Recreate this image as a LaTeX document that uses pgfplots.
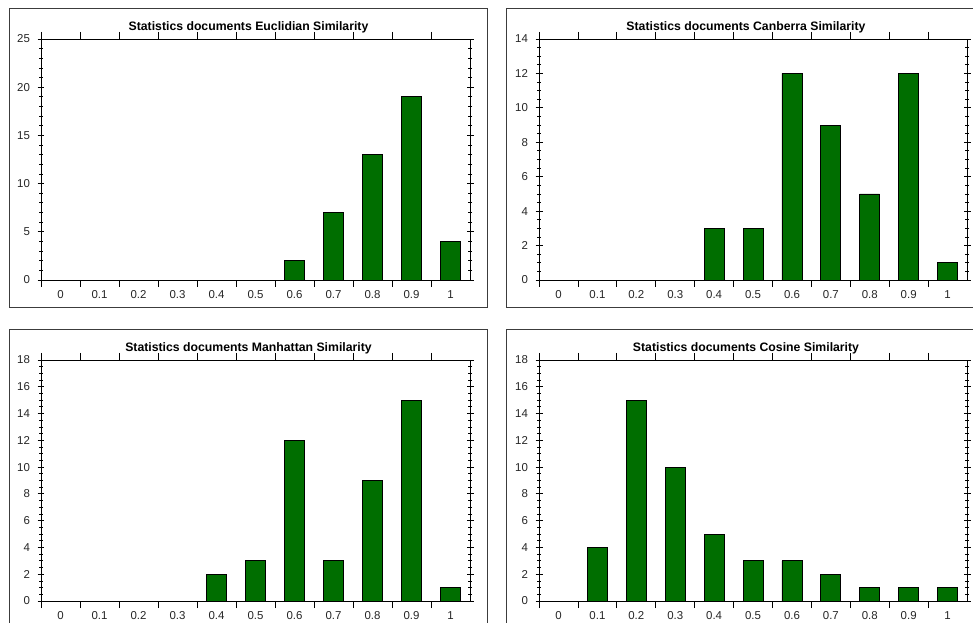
\documentclass[border=0pt]{standalone}
\usepackage{pgfplots}
\pgfplotsset{compat=1.18}
\usepackage{fontspec}
\setmainfont{Liberation Sans}
\definecolor{barfill}{RGB}{0,110,0}
\definecolor{framecol}{RGB}{60,60,60}
\pgfplotsset{
  simpanel/.style={
    scale only axis, width=429bp, height=241bp,
    xmin=-0.5, xmax=10.5, ymin=0,
    xtick={-0.5,0.5,...,9.5},
    xticklabels={0,0.1,0.2,0.3,0.4,0.5,0.6,0.7,0.8,0.9,1},
    xticklabel style={xshift=19.5bp},
    yticklabel style={xshift=-4bp},
    tick label style={font=\fontsize{11.5}{13}\selectfont, black!85},
    /pgf/number format/assume math mode=true,
    tick align=center, major tick length=7bp, minor tick length=4bp,
    axis line style={line width=0.8bp, black},
    every tick/.style={black, line width=0.8bp},
    title style={font=\bfseries\fontsize{12.3}{14}\selectfont, at={(0.5,1)}, anchor=base, yshift=2.7bp, xshift=-7bp},
    ybar, bar width=20bp,
  },
  simbar/.style={draw=black, line width=0.7bp, fill=barfill},
}
\begin{document}
\begin{tikzpicture}
\useasboundingbox (0,0) rectangle (973bp,623bp);
\clip (0,0) rectangle (973bp,623bp);
\fill[white] (0,0) rectangle (973bp,623bp);
\draw[framecol, line width=1bp] (9bp,315bp) rectangle (487bp,614bp);
\draw[framecol, line width=1bp] (506bp,315bp) rectangle (990bp,614bp);
\draw[framecol, line width=1bp] (9bp,-10bp) rectangle (487bp,293bp);
\draw[framecol, line width=1bp] (506bp,-10bp) rectangle (990bp,293bp);

\begin{axis}[simpanel, at={(41bp,343bp)}, anchor=south west,
  ymax=25, ytick distance=5, minor y tick num=4,
  title={Statistics documents Euclidian Similarity}]
\addplot[simbar] coordinates {(6,2) (7,7) (8,13) (9,19) (10,4)};
\end{axis}

\begin{axis}[simpanel, width=428bp, at={(539bp,343bp)}, anchor=south west,
  ymax=14, ytick distance=2, minor y tick num=3,
  title={Statistics documents Canberra Similarity}]
\addplot[simbar] coordinates {(4,3) (5,3) (6,12) (7,9) (8,5) (9,12) (10,1)};
\end{axis}

\begin{axis}[simpanel, at={(41bp,22bp)}, anchor=south west,
  ymax=18, ytick distance=2, minor y tick num=3,
  title={Statistics documents Manhattan Similarity}]
\addplot[simbar] coordinates {(4,2) (5,3) (6,12) (7,3) (8,9) (9,15) (10,1)};
\end{axis}

\begin{axis}[simpanel, width=428bp, at={(539bp,22bp)}, anchor=south west,
  ymax=18, ytick distance=2, minor y tick num=3,
  title={Statistics documents Cosine Similarity}]
\addplot[simbar] coordinates {(1,4) (2,15) (3,10) (4,5) (5,3) (6,3) (7,2) (8,1) (9,1) (10,1)};
\end{axis}
\end{tikzpicture}
\end{document}
